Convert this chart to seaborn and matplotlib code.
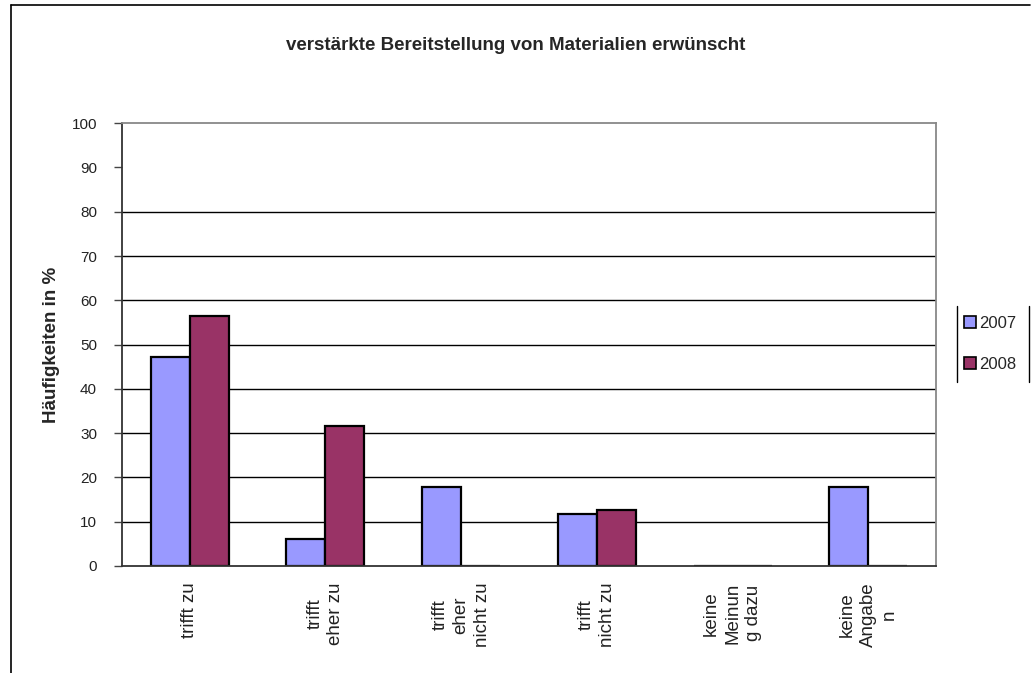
import matplotlib
matplotlib.use("Agg")
import matplotlib.pyplot as plt
from matplotlib.lines import Line2D
from matplotlib.patches import Rectangle
import seaborn as sns
import pandas as pd

categories = ["trifft zu", "trifft\neher zu", "trifft\neher\nnicht zu", "trifft\nnicht zu",
              "keine\nMeinun\ng dazu", "keine\nAngabe\nn"]
years = ["2007", "2008"]
values_2007 = [47.2, 6.1, 17.9, 11.7, 0.0, 17.9]
values_2008 = [56.4, 31.6, 0.0, 12.7, 0.0, 0.0]
yticks = [0, 10, 20, 30, 40, 50, 60, 70, 80, 90, 100]

df = pd.DataFrame({
    "Kategorie": categories * 2,
    "Jahr": [years[0]] * len(categories) + [years[1]] * len(categories),
    "Wert": values_2007 + values_2008,
})

sns.set_theme(style="white")
plt.rcParams["font.family"] = ["Liberation Sans", "DejaVu Sans"]

fig = plt.figure(figsize=(10.32, 6.73), dpi=100)
ax = fig.add_axes([0.1182, 0.159, 0.7888, 0.658])

palette = {"2007": "#9999FF", "2008": "#993366"}
sns.barplot(data=df, x="Kategorie", y="Wert", hue="Jahr", order=categories,
            hue_order=years, palette=palette, width=0.575, gap=0,
            edgecolor="black", linewidth=1.6, saturation=1, ax=ax, legend=False)

ax.set_xlim(-0.5, len(categories) - 0.5)
ax.set_ylim(0, 100)
ax.set_yticks(yticks)
ax.set_yticklabels([str(v) for v in yticks], fontsize=11, color="#222222")
for v in yticks:
    if v not in (0, 90, 100):
        ax.axhline(v, color="black", lw=1.0, zorder=0)

ax.set_xticks(range(len(categories)))
ax.set_xticklabels(categories, rotation=90, fontsize=13.5, color="#222222",
                   va="top", ha="center", multialignment="center", linespacing=1.3)
ax.tick_params(axis="x", which="major", length=0, pad=12)
ax.set_xticks([i - 0.5 for i in range(len(categories) + 1)], minor=True)
ax.tick_params(axis="x", which="minor", length=6, width=1, color="#444444", direction="out")
ax.tick_params(axis="y", which="major", length=6, width=1, color="#444444", direction="out",
               left=True, pad=12)

ax.set_xlabel("")
ax.set_ylabel("Häufigkeiten in %", fontsize=13.5, fontweight="bold", labelpad=8)

for side in ["left", "bottom"]:
    ax.spines[side].set_color("#333333")
    ax.spines[side].set_linewidth(1.3)
for side in ["top", "right"]:
    ax.spines[side].set_color("#888888")
    ax.spines[side].set_linewidth(1.3)

fig.text(0.5, 0.932, "verstärkte Bereitstellung von Materialien erwünscht",
         ha="center", va="center", fontsize=13.5, fontweight="bold")

# legend
handles = [Rectangle((0, 0), 1, 1, facecolor=palette[y], edgecolor="black", linewidth=1.2)
           for y in years]
leg = fig.legend(handles, years, loc="center left", bbox_to_anchor=(0.920, 0.489),
                 frameon=False, fontsize=12, handlelength=0.7, handleheight=0.7,
                 handletextpad=0.2, labelspacing=1.55)
fig.add_artist(Line2D([0.927, 0.927], [0.432, 0.545], color="black", lw=1.0))
fig.add_artist(Line2D([0.997, 0.997], [0.432, 0.545], color="black", lw=1.0))

# outer border
fig.add_artist(Line2D([0.011, 0.011], [0.0, 0.992], color="black", lw=1.2))
fig.add_artist(Line2D([0.011, 0.998], [0.992, 0.992], color="black", lw=1.2))

fig.savefig("out.png", dpi=100, facecolor="white")
